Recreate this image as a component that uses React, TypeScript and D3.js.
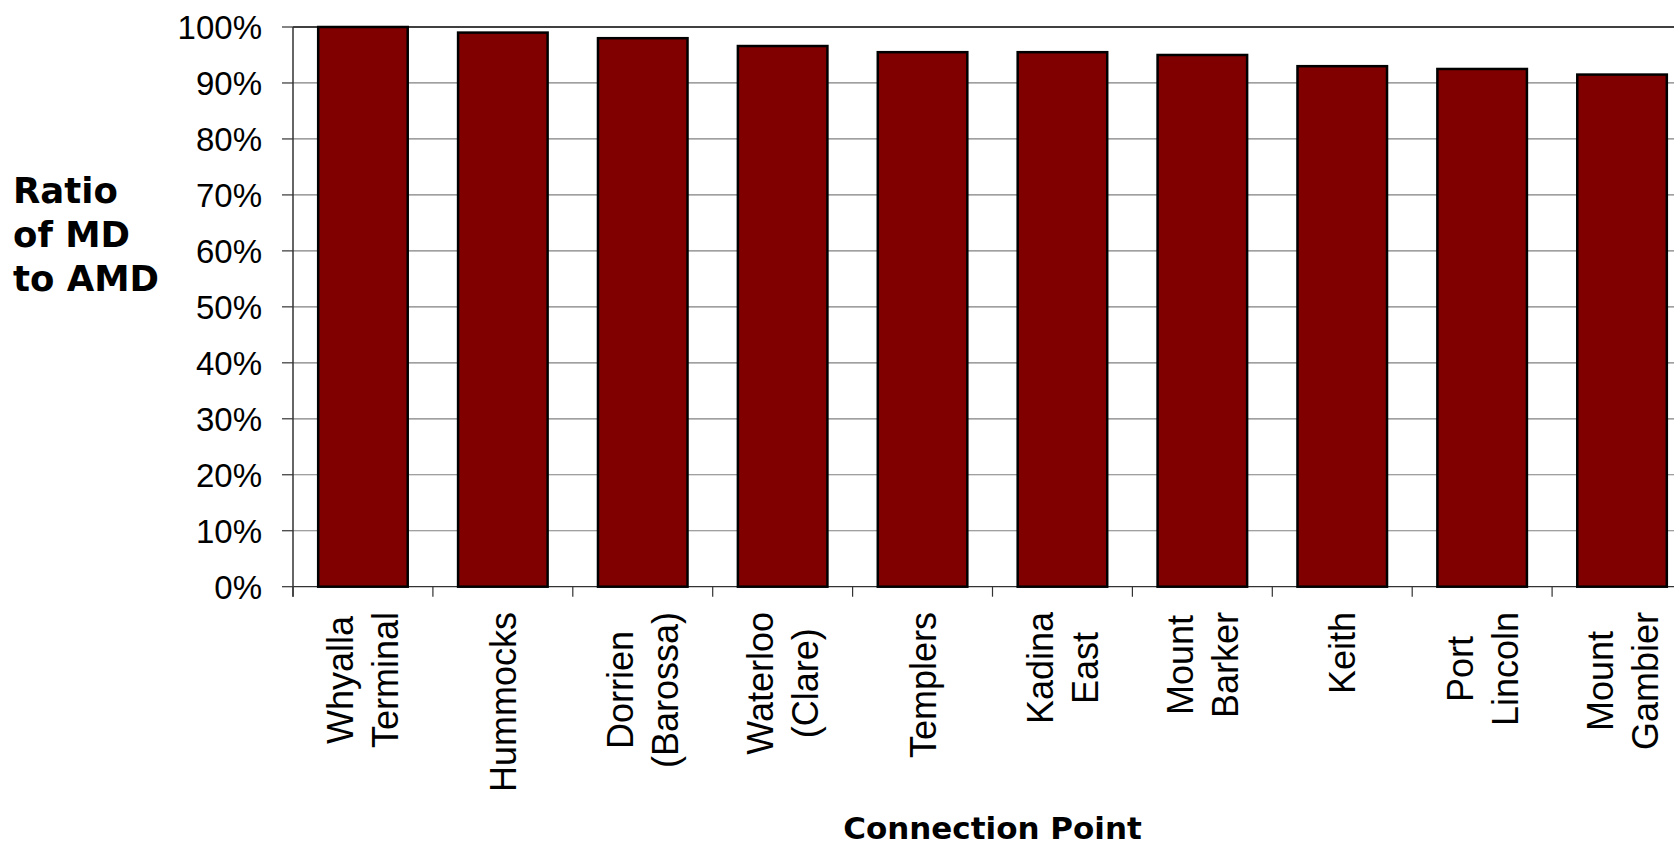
import React from "react";
import * as d3 from "d3";

// Connection points, ordered by ratio
const categories: string[][] = [
  ["Whyalla", "Terminal"],
  ["Hummocks"],
  ["Dorrien", "(Barossa)"],
  ["Waterloo", "(Clare)"],
  ["Templers"],
  ["Kadina", "East"],
  ["Mount", "Barker"],
  ["Keith"],
  ["Port", "Lincoln"],
  ["Mount", "Gambier"],
];

// Ratio of MD to AMD (fraction)
const ratios: number[] = [1.0, 0.99, 0.98, 0.966, 0.955, 0.955, 0.95, 0.93, 0.925, 0.915];

const yTicks: number[] = [0, 0.1, 0.2, 0.3, 0.4, 0.5, 0.6, 0.7, 0.8, 0.9, 1.0];

const yTitleLines: string[] = ["Ratio", "of MD", "to AMD"];
const xTitle = "Connection Point";

const W = 1674;
const H = 847;
const plot = { left: 293, right: 1692, top: 27, bottom: 586.7 };

const CAT_FONT = 36;
const FONT = "'Liberation Sans', Arial, sans-serif";

// measure text width with a canvas so multi-line labels can be centred as a block
let ctx: CanvasRenderingContext2D | null = null;
function textWidth(s: string, size: number): number {
  if (!ctx) ctx = document.createElement("canvas").getContext("2d");
  if (!ctx) return s.length * size * 0.55;
  ctx.font = `${size}px ${FONT}`;
  return ctx.measureText(s).width;
}

export default function App() {
  const keys = categories.map((c) => c.join(" "));
  const x = d3
    .scaleBand<string>()
    .domain(keys)
    .range([plot.left, plot.right])
    .paddingInner(0.36)
    .paddingOuter(0.18);
  const y = d3.scaleLinear().domain([0, 1]).range([plot.bottom, plot.top]);
  const step = x.step();
  const fmt = d3.format(".0%");

  const lineH = 45;
  const labelTop = 612;

  return (
    <svg
      width={W}
      height={H}
      style={{ position: "absolute", left: 0, top: 0, display: "block", background: "#fff" }}
      fontFamily={FONT}
    >
      {/* gridlines */}
      {yTicks.map((t) => (
        <line
          key={"g" + t}
          x1={plot.left}
          x2={plot.right}
          y1={y(t)}
          y2={y(t)}
          stroke={t === 1 ? "#000" : t === 0 ? "#333" : "#808080"}
          strokeWidth={t === 1 ? 1.5 : 1.2}
        />
      ))}
      {/* y ticks and labels */}
      {yTicks.map((t) => (
        <g key={"t" + t}>
          <line x1={plot.left - 11} x2={plot.left} y1={y(t)} y2={y(t)} stroke="#333" strokeWidth={1.2} />
          <text x={262} y={y(t)} dy="0.36em" textAnchor="end" fontSize={33} fill="#000">
            {fmt(t)}
          </text>
        </g>
      ))}
      {/* x ticks at category boundaries */}
      {d3.range(keys.length + 1).map((i) => (
        <line
          key={"xt" + i}
          x1={plot.left + i * step}
          x2={plot.left + i * step}
          y1={plot.bottom}
          y2={plot.bottom + 10}
          stroke="#333"
          strokeWidth={1.2}
        />
      ))}
      {/* bars */}
      {ratios.map((v, i) => (
        <rect
          key={"b" + i}
          x={x(keys[i])}
          y={y(v)}
          width={x.bandwidth()}
          height={y(0) - y(v)}
          fill="#800000"
          stroke="#000"
          strokeWidth={2.5}
        />
      ))}
      {/* y axis line */}
      <line x1={plot.left} x2={plot.left} y1={plot.top} y2={plot.bottom + 10} stroke="#333" strokeWidth={1.5} />
      {/* category labels, rotated; lines centred within a top-aligned block */}
      {categories.map((lines, i) => {
        const cx = (x(keys[i]) as number) + x.bandwidth() / 2;
        const n = lines.length;
        const maxW = Math.max(...lines.map((l) => textWidth(l, CAT_FONT)));
        const midY = labelTop + maxW / 2;
        return lines.map((ln, j) => {
          const bx = cx + (j - (n - 1) / 2) * lineH + CAT_FONT * 0.36;
          return (
            <text
              key={"c" + i + "-" + j}
              transform={`translate(${bx},${midY}) rotate(-90)`}
              textAnchor="middle"
              fontSize={CAT_FONT}
              fill="#000"
            >
              {ln}
            </text>
          );
        });
      })}
      {/* y title */}
      {yTitleLines.map((ln, i) => (
        <text
          key={"yt" + i}
          x={13}
          y={203 + i * 44}
          fontFamily="'DejaVu Sans', Verdana, sans-serif"
          fontWeight="bold"
          fontSize={35.5}
          fill="#000"
        >
          {ln}
        </text>
      ))}
      {/* x title */}
      <text
        x={(plot.left + plot.right) / 2}
        y={839}
        textAnchor="middle"
        fontFamily="'DejaVu Sans', Verdana, sans-serif"
        fontWeight="bold"
        fontSize={31}
        fill="#000"
      >
        {xTitle}
      </text>
    </svg>
  );
}
